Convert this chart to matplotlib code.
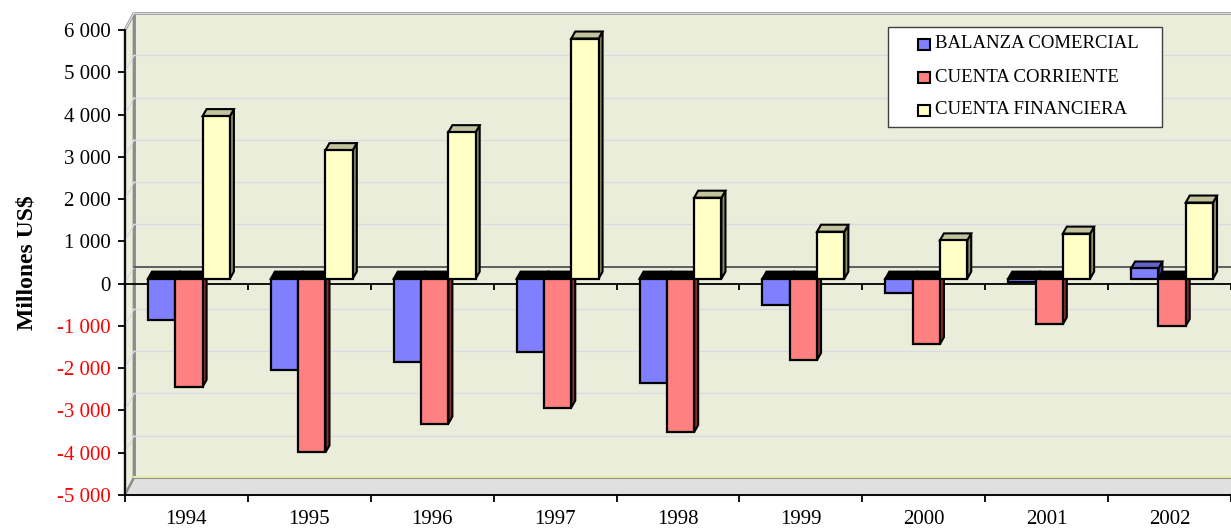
import numpy as np
import matplotlib.pyplot as plt
from matplotlib.patches import Polygon, Rectangle

plt.rcParams['font.family'] = ['Liberation Serif', 'DejaVu Serif']
plt.rcParams['axes.unicode_minus'] = False

# Datos (millones US$)
anios = ['1994', '1995', '1996', '1997', '1998', '1999', '2000', '2001', '2002']
balanza_comercial = [-990, -2160, -1980, -1730, -2460, -630, -330, -90, 240]
cuenta_corriente = [-2560, -4110, -3430, -3050, -3630, -1925, -1550, -1080, -1120]
cuenta_financiera = [3845, 3040, 3465, 5680, 1915, 1110, 905, 1065, 1800]
series = ['BALANZA COMERCIAL', 'CUENTA CORRIENTE', 'CUENTA FINANCIERA']
y_ticks = np.arange(-5000, 6001, 1000)

# Colores: frente, tapa, lado
col_frente = ['#8080FF', '#FF8080', '#FFFFC6']
col_tapa = ['#6262C8', '#B05050', '#C2C29C']
col_lado = ['#40409A', '#8A2E2E', '#8E8E66']

W, H = 1231, 529
fig = plt.figure(figsize=(W / 100, H / 100), dpi=100)
ax = fig.add_axes([125 / W, 34 / H, 1106 / W, 465 / H])
ax.set_xlim(0, 9)
ax.set_ylim(-5000, 6000)
ax.set_facecolor('none')

# conversion pixel -> datos
px_x = 9 / 1106
px_y = 11000 / 465

# pared de fondo, piso y pared lateral (efecto 3D)
wx, wy = 9 * px_x, 17 * px_y
ax.add_patch(Rectangle((wx, -5000 + wy), 9, 11000, facecolor='#E9EDD9',
                       edgecolor='#8C8C8C', lw=2, clip_on=False, zorder=0))
ax.add_patch(Polygon([(0, -5000), (wx, -5000 + wy), (wx, 6000 + wy), (0, 6000)],
                     closed=True, facecolor='#EDEFDD', edgecolor='#8C8C8C',
                     lw=2, clip_on=False, zorder=0.2))
ax.add_patch(Polygon([(0, -5000), (9, -5000), (9 + wx, -5000 + wy), (wx, -5000 + wy)],
                     closed=True, facecolor='#E0E0E0', edgecolor='#8C8C8C',
                     lw=1.5, clip_on=False, zorder=0.2))
ax.plot([wx, 9 + wx], [-5000 + wy + 1.5 * px_y] * 2, color='#EAEAA8', lw=1.5,
        clip_on=False, zorder=0.3)
for v in y_ticks[1:]:
    ax.plot([wx, 9 + wx], [v + wy, v + wy], color='#DADAE4', lw=1, clip_on=False, zorder=0.5)
    ax.plot([0, wx], [v, v + wy], color='#DADAE4', lw=1, clip_on=False, zorder=0.5)
ax.plot([wx, 9 + wx], [wy, wy], color='#555555', lw=1.3, clip_on=False, zorder=0.6)

# eje del cero (frente)
ax.plot([0, 9], [0, 0], color='black', lw=1.3, zorder=1)
ax.vlines(np.arange(10), -6 * px_y, 0, color='black', lw=1.3, zorder=1)

# barras 3D
bw = 1 / 4.5
bx0 = 0.75 * bw + 2.5 * px_x
b0 = 5 * px_y
ddx, ddy = 4 * px_x, 7 * px_y
valores = [balanza_comercial, cuenta_corriente, cuenta_financiera]
x = np.arange(len(anios))
for k, vals in enumerate(valores):
    z = 2 + k
    xs = x + bx0 + k * bw
    for xi, v in zip(xs, vals):
        lo, hi = b0 + min(v, 0), b0 + max(v, 0)
        ax.add_patch(Polygon([(xi + bw, lo), (xi + bw + ddx, lo + ddy),
                              (xi + bw + ddx, hi + ddy), (xi + bw, hi)],
                             closed=True, facecolor=col_lado[k], edgecolor='black',
                             lw=1.5, joinstyle='miter', zorder=z))
        ax.add_patch(Polygon([(xi, hi), (xi + ddx, hi + ddy),
                              (xi + bw + ddx, hi + ddy), (xi + bw, hi)],
                             closed=True, facecolor=col_tapa[k] if v > 0 else 'black',
                             edgecolor='black', lw=1.5, joinstyle='miter', zorder=z))
    ax.bar(xs, vals, width=bw, bottom=b0, align='edge', color=col_frente[k],
           edgecolor='black', lw=1.6, zorder=z + 0.5)

# ejes
for s in ['top', 'right']:
    ax.spines[s].set_visible(False)
ax.spines['left'].set_linewidth(1.3)
ax.spines['bottom'].set_linewidth(1.3)

ax.set_yticks(y_ticks)
ax.set_yticklabels([f'{v:,}'.replace(',', ' ') for v in y_ticks], fontsize=15)
for lbl, v in zip(ax.get_yticklabels(), y_ticks):
    if v < 0:
        lbl.set_color('red')
ax.tick_params(axis='y', length=5, width=1.3, pad=5)

ax.set_xticks(np.arange(10))
ax.set_xticklabels([])
ax.set_xticks(x + 0.5, minor=True)
ax.set_xticklabels(anios, minor=True, fontsize=15)
ax.tick_params(axis='x', which='major', length=5, width=1.3)
ax.tick_params(axis='x', which='minor', length=0, pad=11)

ax.set_ylabel('Millones US\\$', fontsize=17, fontweight='bold')
ax.yaxis.set_label_coords(-0.079, 0.5)

# leyenda
fx = lambda p: p / W
fy = lambda p: 1 - p / H
fig.add_artist(Rectangle((fx(888), fy(127)), fx(1162) - fx(888), fy(27) - fy(127),
                         transform=fig.transFigure, facecolor='white',
                         edgecolor='#404040', lw=1, zorder=10))
for k, nombre in enumerate(series):
    yc = 44 + 33 * k
    fig.add_artist(Rectangle((fx(918), fy(yc + 5.5)), fx(930) - fx(918), fy(yc - 5.5) - fy(yc + 5.5),
                             transform=fig.transFigure, facecolor=col_frente[k],
                             edgecolor='black', lw=1.5, zorder=11))
    fig.text(fx(935), fy(yc), nombre, fontsize=13.5, va='center', ha='left', zorder=12)

fig.savefig('out.png', dpi=100)
